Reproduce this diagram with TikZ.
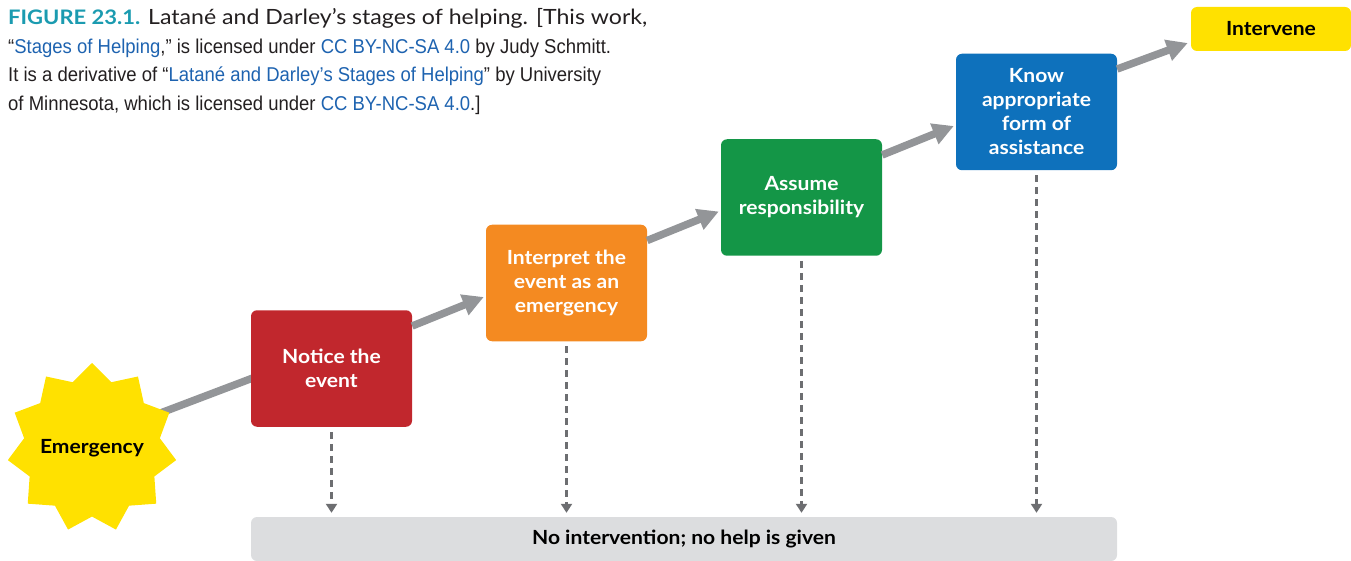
\documentclass[tikz,border=0pt]{standalone}
\usepackage{fontspec}
\setmainfont{Lato}
\newfontfamily\condfont[FakeStretch=0.925]{Liberation Sans}
\newfontfamily\boxfont[FakeStretch=1.08]{Lato}
\newfontfamily\figfont[FakeStretch=1.1]{Lato}
\usetikzlibrary{shapes.geometric,arrows.meta,calc,backgrounds}
\definecolor{stRed}{HTML}{C1272D}
\definecolor{stOrange}{HTML}{F48A21}
\definecolor{stGreen}{HTML}{149647}
\definecolor{stBlue}{HTML}{0E71BC}
\definecolor{stYellow}{HTML}{FFE100}
\definecolor{barGray}{HTML}{DCDDDF}
\definecolor{flowGray}{HTML}{939598}
\definecolor{dropGray}{HTML}{6D6E71}
\definecolor{figTeal}{HTML}{1B9BB0}
\definecolor{linkBlue}{HTML}{1E63B0}
\definecolor{capText}{HTML}{231F20}
\begin{document}
\begin{tikzpicture}[x=1pt,y=-1pt,
  boxtext/.style={font=\boxfont\bfseries\fontsize{19.5}{24}\selectfont},
  stagebox/.style={rectangle, rounded corners=6pt, minimum width=161pt, minimum height=116.5pt,
    text=white, boxtext, align=center, inner sep=0pt},
  flow/.style={line width=7.5pt, draw=flowGray, -{Triangle[length=21pt,width=21pt]}},
  drop/.style={draw=dropGray, line width=2.5pt, dash pattern=on 7pt off 5pt, -{Triangle[length=9pt,width=11pt]}},
  capline/.style={anchor=base west, inner sep=0pt, text=capText, font=\condfont\fontsize{20}{24}\selectfont}
]
\useasboundingbox (0,0) rectangle (1351,561);

% caption
\node[capline, font=\figfont\fontsize{21}{24}\selectfont] (cap1) at (8,25) {{\fontsize{20}{24}\selectfont\bfseries\color{figTeal}FIGURE 23.1.} Latané and Darley’s stages of helping. [This work,};
\node[capline] (cap2) at (8,53.5) {“{\color{linkBlue}Stages of Helping},” is licensed under {\color{linkBlue}CC BY-NC-SA 4.0} by Judy Schmitt.};
\node[capline] (cap3) at (8,82) {It is a derivative of “{\color{linkBlue}Latané and Darley’s Stages of Helping}” by University};
\node[capline] (cap4) at (8,110.5) {of Minnesota, which is licensed under {\color{linkBlue}CC BY-NC-SA 4.0}.]};

% stages
\node[stagebox, fill=stRed] (n1) at (331.5,368.5) {Notice the\\event};
\node[stagebox, fill=stOrange] (n2) at (566.5,283) {Interpret the\\event as an\\emergency};
\node[stagebox, fill=stGreen] (n3) at (801.5,197.5) {Assume\\responsibility};
\node[stagebox, fill=stBlue] (n4) at (1036.5,112) {Know\\appropriate\\form of\\assistance};
\node[rectangle, rounded corners=6pt, fill=stYellow, minimum width=160pt, minimum height=44pt,
  boxtext, inner sep=0pt] (iv) at (1271,29) {Intervene};
\node[star, star points=11, star point ratio=1.24, minimum size=170pt, fill=stYellow, inner sep=0pt,
  label={[boxtext]center:Emergency}] (em) at (92,448) {};
\node[rectangle, rounded corners=6pt, fill=barGray, minimum width=866pt, minimum height=44pt,
  boxtext, inner sep=0pt] (bar) at (684,539) {No intervention; no help is given};

% flow arrows
\begin{scope}[on background layer]
\draw[line width=7.5pt, draw=flowGray] ($(em.center)+(0,-9)$) -- ($(n1.west)+(2,9.5)$);
\end{scope}
\draw[flow] ($(n1.east)+(0,-42.5)$) -- ($(n2.west)+(-2,14)$);
\draw[flow] ($(n2.east)+(0,-42.5)$) -- ($(n3.west)+(-2,14)$);
\draw[flow] ($(n3.east)+(0,-42.5)$) -- ($(n4.west)+(-2,14)$);
\draw[flow] ($(n4.east)+(0,-43)$) -- ($(iv.west)+(-3,14)$);

% drops
\foreach \n in {n1,n2,n3,n4}{
  \draw[drop] ($(\n.south)+(0,5)$) -- ($(\n.south |- bar.north)+(0,-4)$);
}
\end{tikzpicture}
\end{document}
